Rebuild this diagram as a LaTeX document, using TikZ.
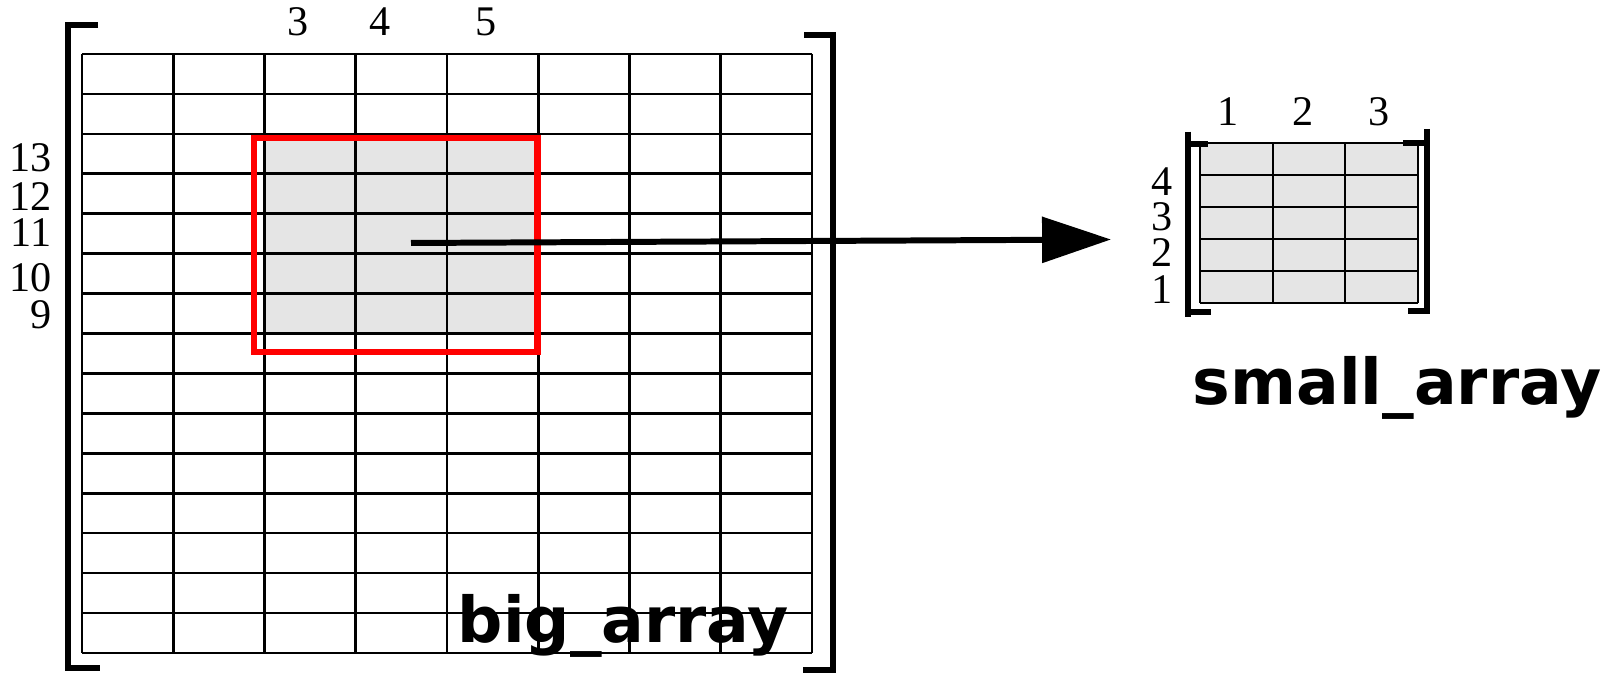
\documentclass[tikz,border=0pt]{standalone}
\usepackage{fontspec}
\setmainfont{Liberation Serif}
\newfontfamily\namefont{DejaVu Sans}
\usetikzlibrary{arrows.meta}

\begin{document}
    \begin{tikzpicture}[x=0.01cm, y=-0.01cm,
        cell/.style={line width=0.75pt},
        smallcell/.style={line width=0.6pt},
        selbox/.style={draw=red, line width=1.85pt},
        brak/.style={line width=1.9pt},
        idx/.style={font=\fontsize{12}{12}\selectfont, inner sep=0pt},
        arrname/.style={font=\namefont\bfseries\fontsize{18}{18}\selectfont, inner sep=0pt, anchor=base west}]
        \useasboundingbox (0,0) rectangle (1605,677);
        % big array
        \fill [gray!20] (264.5,133.8) rectangle (538.25,333.3);
        \foreach \i in {0,...,15} \draw [cell] (82,54+39.93*\i) -- (812,54+39.93*\i);
        \foreach \j in {0,...,8} \draw [cell] (82+91.25*\j,54) -- (82+91.25*\j,653);
        \draw [selbox] (254,138) rectangle (537.5,352);
        \draw [brak] (98,25) -- (68,25) -- (68,668) -- (100,668);
        \draw [brak] (804,35) -- (833,35) -- (833,670) -- (803,670);
        \node [idx] (bc3) at (298,22) {3};
        \node [idx] (bc4) at (380,22) {4};
        \node [idx] (bc5) at (486,22) {5};
        \node [idx, anchor=east] (br13) at (52,158) {13};
        \node [idx, anchor=east] (br12) at (52,197) {12};
        \node [idx, anchor=east] (br11) at (52,233) {11};
        \node [idx, anchor=east] (br10) at (52,278) {10};
        \node [idx, anchor=east] (br9) at (52,315) {9};
        \node [arrname] (bigname) at (457,643) {big\_array};
        % small array
        \fill [gray!20] (1200,142.7) rectangle (1418,303.3);
        \foreach \i in {0,...,5} \draw [smallcell] (1200,142.7+32.12*\i) -- (1418,142.7+32.12*\i);
        \foreach \j in {0,...,3} \draw [smallcell] (1200+72.67*\j,142.7) -- (1200+72.67*\j,303.3);
        \draw [brak] (1188,131.7) -- (1188,316.7);
        \draw [brak] (1188,144) -- (1208,144);
        \draw [brak] (1188,312) -- (1211,312);
        \draw [brak] (1427,129) -- (1427,314);
        \draw [brak] (1403,143) -- (1427,143);
        \draw [brak] (1408,311) -- (1427,311);
        \node [idx] (sc1) at (1228,112) {1};
        \node [idx] (sc2) at (1303,112) {2};
        \node [idx] (sc3) at (1379,112) {3};
        \node [idx] (sr4) at (1162,182) {4};
        \node [idx] (sr3) at (1162,217) {3};
        \node [idx] (sr2) at (1162,253) {2};
        \node [idx] (sr1) at (1162,290) {1};
        \node [arrname] (smallname) at (1192,405) {small\_array};
        % copy arrow
        \coordinate (src) at (411,243);
        \coordinate (dst) at (1111,239.5);
        \draw [line width=1.7pt, -{Triangle[length=19.6pt,width=12.8pt]}] (src) -- (dst);
    \end{tikzpicture}
\end{document}
